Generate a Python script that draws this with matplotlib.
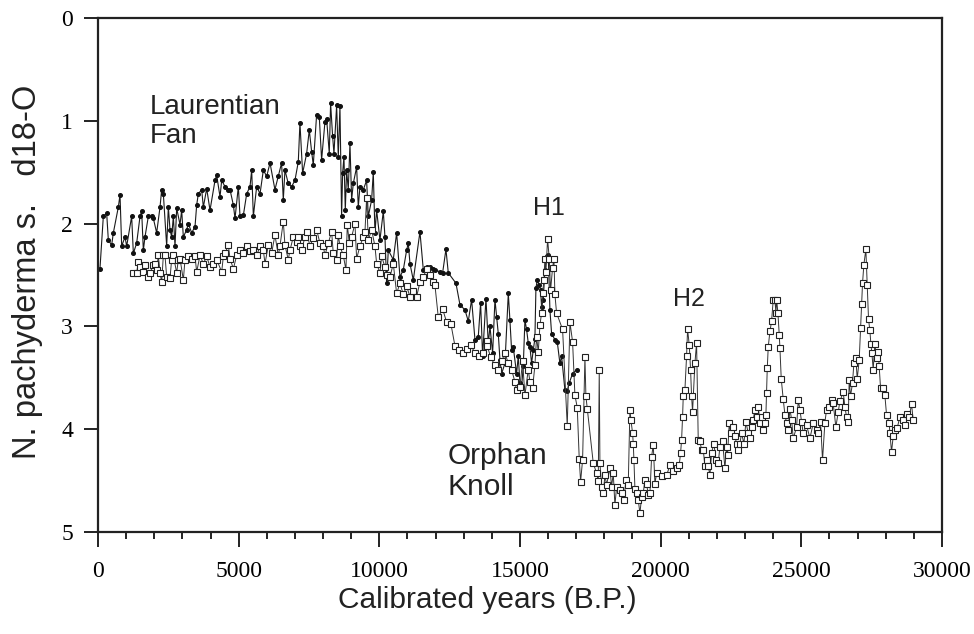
import matplotlib
matplotlib.use("Agg")
import matplotlib.pyplot as plt
from matplotlib.ticker import MultipleLocator

# Laurentian Fan core: calibrated age (yr B.P.) and N. pachyderma s. d18O
lf_age = [
    70, 190, 309, 368, 486, 546, 723, 783, 842, 960, 1020, 1197, 1257, 1375,
    1494, 1553, 1612, 1671, 1790, 1908, 1968, 2086, 2205, 2264, 2323, 2442,
    2501, 2560, 2619, 2679, 2738, 2797, 2916, 2975, 3034, 3153, 3212, 3330,
    3449, 3508, 3567, 3686, 3745, 3864, 3982, 4160, 4219, 4338, 4397, 4515,
    4634, 4693, 4812, 4871, 4989, 5049, 5167, 5286, 5404, 5463, 5523, 5641,
    5760, 5878, 5997, 6115, 6290, 6409, 6527, 6587, 6646, 6764, 6883, 7001,
    7120, 7179, 7274, 7416, 7511, 7594, 7653, 7772, 7866, 7949, 8068, 8127,
    8222, 8269, 8340, 8388, 8483, 8542, 8601, 8660, 8696, 8743, 8791, 8838,
    8897, 8957, 9016, 9075, 9194, 9253, 9312, 9431, 9549, 9608, 9727, 9786,
    9845, 9905, 10023, 10142, 10201, 10260, 10319, 10497, 10616, 10734,
    10853, 10971, 11030, 11090, 11208, 11445, 11564, 11682, 11801, 11919,
    11978, 12156, 12250, 12369, 12452, 12724, 12867, 13044, 13163, 13281,
    13400, 13518, 13601, 13672, 13791, 13874, 13933, 14028, 14111, 14170,
    14229, 14289, 14348, 14466, 14585, 14643, 14702, 14761, 14880, 14939,
    14998, 15057, 15117, 15176, 15235, 15294, 15354, 15413, 15472, 15531,
    15567, 15614, 15685, 15733, 15768, 15828, 15887, 15946, 16005, 16065,
    16124, 16242, 16325, 16420, 16479, 16598, 16681, 16752, 16870, 17013,
]
lf_d18o = [
    2.44, 1.93, 1.90, 2.16, 2.21, 2.09, 1.84, 1.72, 2.22, 2.13, 2.22, 1.93,
    2.29, 2.19, 1.93, 1.88, 2.26, 2.13, 1.93, 1.93, 1.95, 2.09, 1.84, 1.67,
    1.71, 2.22, 1.84, 2.06, 2.13, 1.93, 2.22, 1.85, 2.01, 1.87, 2.13, 2.06,
    2.00, 2.09, 2.03, 1.82, 1.71, 1.67, 1.84, 1.66, 1.87, 1.58, 1.53, 1.74,
    1.58, 1.64, 1.67, 1.67, 1.82, 1.95, 1.64, 1.93, 1.92, 1.71, 1.64, 1.48,
    1.93, 1.64, 1.71, 1.48, 1.54, 1.41, 1.67, 1.54, 1.41, 1.77, 1.48, 1.61,
    1.64, 1.58, 1.40, 1.02, 1.51, 1.32, 1.09, 1.30, 1.43, 0.94, 0.96, 1.38,
    1.01, 0.98, 1.32, 0.83, 1.15, 1.32, 0.85, 1.35, 0.86, 1.93, 1.51, 1.35,
    1.87, 1.48, 1.67, 1.22, 1.77, 1.61, 1.45, 1.84, 1.64, 1.67, 1.58, 1.93,
    1.77, 1.50, 2.09, 1.87, 2.16, 1.88, 2.13, 2.58, 2.26, 2.35, 2.09, 2.52,
    2.45, 2.26, 2.19, 2.39, 2.55, 2.08, 2.45, 2.42, 2.42, 2.44, 2.45, 2.47,
    2.48, 2.25, 2.48, 2.58, 2.79, 2.84, 2.95, 2.74, 3.13, 3.10, 2.77, 3.29,
    2.73, 3.17, 3.00, 3.26, 2.74, 2.91, 3.07, 3.33, 3.46, 3.36, 2.68, 2.94,
    3.23, 3.20, 3.46, 3.29, 3.55, 3.59, 3.39, 2.94, 3.03, 3.16, 3.20, 3.36,
    3.23, 3.12, 2.63, 2.55, 2.60, 2.65, 2.81, 2.74, 2.45, 2.32, 2.31, 2.84,
    3.07, 3.13, 3.15, 3.36, 3.29, 3.62, 3.63, 3.55, 3.46, 3.42,
]

# Orphan Knoll core
ok_age = [
    1257, 1375, 1434, 1494, 1612, 1671, 1790, 1849, 1968, 2027, 2086, 2145,
    2205, 2264, 2323, 2382, 2442, 2560, 2619, 2679, 2797, 2856, 2916, 3034,
    3093, 3212, 3330, 3449, 3508, 3627, 3745, 3864, 3982, 4101, 4219, 4397,
    4456, 4515, 4634, 4693, 4812, 4930, 5049, 5167, 5286, 5404, 5523, 5641,
    5760, 5878, 5937, 6056, 6172, 6290, 6409, 6468, 6587, 6646, 6764, 6824,
    6942, 7061, 7120, 7179, 7238, 7357, 7416, 7535, 7653, 7772, 7890, 8009,
    8068, 8186, 8305, 8364, 8483, 8542, 8601, 8720, 8814, 8862, 8933, 9016,
    9134, 9194, 9312, 9431, 9490, 9549, 9608, 9727, 9845, 9905, 10023,
    10082, 10201, 10260, 10379, 10497, 10616, 10734, 10853, 10971, 11090,
    11208, 11327, 11445, 11564, 11682, 11801, 11919, 11978, 12096, 12250,
    12393, 12547, 12689, 12843, 12962, 13104, 13246, 13400, 13542, 13696,
    13815, 13838, 13957, 14111, 14206, 14348, 14466, 14585, 14702, 14820,
    14880, 14998, 15093, 15176, 15294, 15354, 15448, 15531, 15591, 15650,
    15709, 15768, 15804, 15851, 15887, 15922, 15982, 16041, 16088, 16159,
    16207, 16242, 16301, 16515, 16681, 16776, 16870, 16953, 17036, 17107,
    17155, 17226, 17309, 17344, 17392, 17605, 17724, 17783, 17818, 17842,
    17901, 17961, 18020, 18079, 18198, 18257, 18316, 18375, 18435, 18553,
    18613, 18695, 18766, 18849, 18908, 18944, 19003, 19027, 19051, 19086,
    19146, 19205, 19264, 19323, 19383, 19442, 19501, 19560, 19620, 19679,
    19738, 19797, 19856, 20033, 20211, 20330, 20448, 20567, 20661, 20709,
    20744, 20780, 20804, 20863, 20922, 20958, 21017, 21064, 21100, 21135,
    21218, 21278, 21337, 21396, 21455, 21515, 21574, 21633, 21692, 21752,
    21811, 21894, 21965, 22048, 22107, 22202, 22285, 22344, 22380, 22439,
    22486, 22557, 22640, 22700, 22759, 22818, 22877, 22960, 23031, 23114,
    23174, 23233, 23292, 23351, 23411, 23470, 23529, 23588, 23648, 23707,
    23742, 23766, 23790, 23825, 23884, 23944, 24003, 24062, 24098, 24122,
    24169, 24216, 24240, 24287, 24358, 24418, 24477, 24536, 24596, 24655,
    24714, 24833, 24892, 24951, 25010, 25070, 25188, 25307, 25425, 25544,
    25601, 25684, 25755, 25838, 25897, 25992, 26075, 26134, 26229, 26312,
    26371, 26490, 26549, 26608, 26667, 26703, 26750, 26821, 26869, 26940,
    26987, 27058, 27106, 27141, 27177, 27224, 27295, 27343, 27390, 27438,
    27473, 27509, 27556, 27615, 27675, 27734, 27769, 27817, 27888, 27971,
    28030, 28125, 28149, 28208, 28267, 28326, 28409, 28504, 28599, 28682,
    28741, 28836, 28919, 28978,
]
ok_d18o = [
    2.48, 2.48, 2.37, 2.42, 2.47, 2.40, 2.52, 2.48, 2.40, 2.39, 2.45, 2.31,
    2.48, 2.57, 2.31, 2.31, 2.52, 2.53, 2.35, 2.31, 2.48, 2.35, 2.34, 2.55,
    2.35, 2.32, 2.34, 2.32, 2.47, 2.31, 2.39, 2.32, 2.42, 2.39, 2.35, 2.47,
    2.32, 2.29, 2.21, 2.34, 2.44, 2.31, 2.26, 2.29, 2.22, 2.27, 2.26, 2.31,
    2.22, 2.26, 2.39, 2.21, 2.29, 2.11, 2.31, 2.22, 1.98, 2.21, 2.35, 2.26,
    2.13, 2.18, 2.13, 2.22, 2.26, 2.13, 2.08, 2.22, 2.14, 2.06, 2.19, 2.22,
    2.31, 2.19, 2.08, 2.29, 2.35, 2.11, 2.22, 2.31, 2.45, 2.01, 2.19, 2.13,
    2.00, 2.34, 2.22, 2.13, 2.08, 1.75, 2.16, 2.06, 2.22, 2.39, 2.48,
    2.32, 2.42, 2.50, 2.52, 2.39, 2.68, 2.58, 2.69, 2.61, 2.71,
    2.66, 2.71, 2.57, 2.52, 2.44, 2.50, 2.57, 2.60, 2.91, 2.83,
    2.96, 2.98, 3.19, 3.23, 3.26, 3.22, 3.18, 3.26, 3.29, 3.26,
    3.14, 3.19, 3.30, 3.38, 3.42, 3.34, 3.26, 3.36, 3.42, 3.54,
    3.62, 3.59, 3.34, 3.67, 3.42, 3.54, 3.60, 3.38, 3.10, 3.25,
    2.99, 2.87, 2.68, 2.55, 2.34, 2.47, 2.15, 2.34, 2.65, 2.43,
    2.34, 2.69, 2.87, 3.03, 3.97, 2.96, 3.15, 3.67, 3.79, 4.29,
    4.51, 4.30, 3.30, 3.68, 3.80, 4.33, 4.43, 4.50, 3.42, 4.33,
    4.56, 4.62, 4.45, 4.54, 4.38, 4.56, 4.43, 4.74, 4.56, 4.59,
    4.62, 4.69, 4.49, 4.54, 3.81, 3.91, 4.04, 4.14, 4.30, 4.58,
    4.62, 4.69, 4.82, 4.66, 4.62, 4.49, 4.53, 4.64, 4.62, 4.27,
    4.15, 4.53, 4.43, 4.46, 4.45, 4.35, 4.41, 4.38, 4.35, 4.23,
    4.11, 3.88, 3.68, 3.62, 3.29, 3.03, 3.18, 3.42, 3.68, 3.83,
    3.36, 3.16, 4.11, 4.12, 4.20, 4.20, 4.36, 4.30, 4.36, 4.45,
    4.23, 4.14, 4.30, 4.33, 4.17, 4.12, 4.38, 4.17, 4.25, 3.94,
    4.04, 3.98, 4.07, 4.14, 4.20, 4.14, 4.04, 4.14, 3.93, 4.04,
    4.09, 3.98, 3.91, 3.81, 3.88, 3.78, 3.94, 3.88, 4.01, 3.94,
    3.86, 3.65, 3.41, 3.20, 3.05, 2.95, 2.74, 2.74, 2.87, 2.74,
    2.87, 3.08, 3.21, 3.51, 3.71, 3.86, 3.94, 4.01, 3.80, 3.91,
    4.09, 3.98, 3.72, 3.81, 3.93, 4.04, 3.96, 4.09, 3.94, 4.01,
    4.04, 3.93, 4.30, 3.94, 3.81, 3.78, 3.72, 3.75, 3.98, 3.83,
    3.73, 3.64, 3.78, 3.88, 3.93, 3.52, 3.68, 3.55, 3.36, 3.31,
    3.51, 3.33, 3.02, 2.78, 2.58, 2.40, 2.25, 2.60, 2.93, 3.04,
    3.17, 3.26, 3.42, 3.17, 3.31, 3.25, 3.39, 3.60, 3.60, 3.67,
    3.86, 3.94, 4.04, 4.22, 4.07, 4.01, 3.99, 3.88, 3.91, 3.96,
    3.85, 3.88, 3.76, 3.91,
]

x_ticks = [0, 5000, 10000, 15000, 20000, 25000, 30000]
y_ticks = [0, 1, 2, 3, 4, 5]

fig = plt.figure(figsize=(9.74, 6.34), dpi=100)
ax = fig.add_axes([0.1006, 0.161, 0.8665, 0.8106])

ax.plot(lf_age, lf_d18o, color="#1a1a1a", linewidth=0.8,
        marker="o", markersize=2.6, markerfacecolor="#111111",
        markeredgecolor="#111111", zorder=2)
ax.plot(ok_age, ok_d18o, color="#333333", linewidth=0.7,
        marker="s", markersize=4.4, markerfacecolor="white",
        markeredgecolor="#222222", markeredgewidth=0.8, zorder=3)

ax.set_xlim(0, 30000)
ax.set_ylim(5, 0)
ax.set_xticks(x_ticks)
ax.set_yticks(y_ticks)
ax.xaxis.set_minor_locator(MultipleLocator(1000))

tick_font = {"family": "Liberation Serif", "size": 17}
ax.set_xticklabels([str(t) for t in x_ticks], fontdict=tick_font)
ax.set_yticklabels([str(t) for t in y_ticks], fontdict=tick_font)
ax.tick_params(axis="both", which="major", direction="out", length=10,
               width=1.4, color="#222222", pad=8)
ax.tick_params(axis="x", which="major", length=11, pad=10)
ax.tick_params(axis="x", which="minor", direction="out", length=5,
               width=1.4, color="#222222")
for spine in ax.spines.values():
    spine.set_linewidth(1.6)
    spine.set_color("#222222")

# core names and Heinrich event labels; y is the baseline of the last line
label_font = "Liberation Sans"
ax.text(1848, 1.22, "Laurentian\nFan", fontsize=20, family=label_font,
        va="baseline", ha="left", linespacing=1.15, color="#222222")
ax.text(12440, 4.64, "Orphan\nKnoll", fontsize=21.5, family=label_font,
        va="baseline", ha="left", linespacing=1.15, color="#222222")
ax.text(15450, 1.92, "H1", fontsize=18, family=label_font,
        va="baseline", ha="left", color="#222222")
ax.text(20430, 2.80, "H2", fontsize=18, family=label_font,
        va="baseline", ha="left", color="#222222")

fig.text(28 / 974, 1 - 272 / 634, "N. pachyderma s.   d18-O",
         rotation=90, ha="center", va="center", fontsize=23.5,
         family=label_font, color="#222222")
fig.text(487 / 974, 1 - 600 / 634, "Calibrated years (B.P.)",
         ha="center", va="center", fontsize=21.5, family=label_font,
         color="#222222")

fig.savefig("out.png", dpi=100)
